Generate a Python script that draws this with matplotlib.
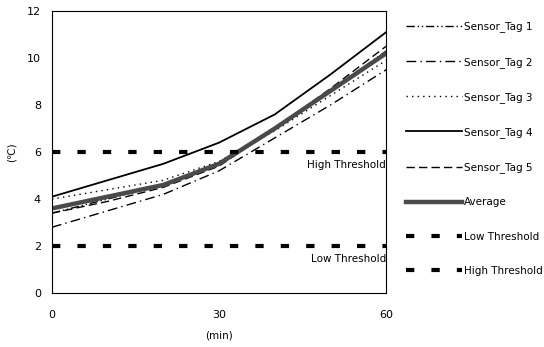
import matplotlib.pyplot as plt

# time in minutes
t = [0, 10, 20, 30, 40, 50, 60]

tag1 = [3.4, 4.0, 4.6, 5.5, 7.0, 8.6, 10.3]
tag2 = [2.8, 3.5, 4.2, 5.2, 6.6, 8.0, 9.5]
tag3 = [4.0, 4.4, 4.8, 5.6, 6.9, 8.4, 9.9]
tag4 = [4.1, 4.8, 5.5, 6.4, 7.6, 9.3, 11.1]
tag5 = [3.4, 3.9, 4.5, 5.4, 7.0, 8.7, 10.5]
average = [3.6, 4.1, 4.6, 5.5, 7.0, 8.6, 10.2]

low_threshold = 2
high_threshold = 6

plt.rcParams['font.family'] = ['DejaVu Sans']
fig = plt.figure(figsize=(5.44, 3.47), dpi=100)
ax = fig.add_axes([0.0956, 0.1556, 0.614, 0.8124])

ax.plot(t, tag1, color='black', lw=1, linestyle=(0, (6, 2, 1, 2, 1, 2)), label='Sensor_Tag 1')
ax.plot(t, tag2, color='black', lw=1, linestyle=(0, (7, 3, 1, 3)), label='Sensor_Tag 2')
ax.plot(t, tag3, color='black', lw=1, linestyle=(0, (1, 3)), label='Sensor_Tag 3')
ax.plot(t, tag4, color='black', lw=1.3, linestyle='-', label='Sensor_Tag 4')
ax.plot(t, tag5, color='black', lw=1, linestyle=(0, (6, 3)), label='Sensor_Tag 5')
ax.plot(t, average, color='#4a4a4a', lw=3.2, linestyle='-', label='Average')
ax.axhline(low_threshold, color='black', lw=3, linestyle=(0, (2, 4.1)), label='Low Threshold')
ax.axhline(high_threshold, color='black', lw=3, linestyle=(0, (2, 4.1)), label='High Threshold')

ax.text(60, high_threshold - 0.35, 'High Threshold', ha='right', va='top', fontsize=7.5)
ax.text(60, low_threshold - 0.35, 'Low Threshold', ha='right', va='top', fontsize=7.5)

ax.set_xlim(0, 60)
ax.set_ylim(0, 12)
ax.set_xticks([0, 30, 60])
ax.set_yticks(range(0, 13, 2))
ax.tick_params(length=0, labelsize=8)
ax.tick_params(axis='x', pad=12)
ax.tick_params(axis='y', pad=8)
ax.set_xlabel('(min)', fontsize=7.5, labelpad=8)
ax.set_ylabel('(℃)', fontsize=7.5, labelpad=7)
for s in ax.spines.values():
    s.set_linewidth(0.8)

handles, labels = ax.get_legend_handles_labels()
fig.legend(handles, labels, loc='upper left', bbox_to_anchor=(0.73, 0.965),
           frameon=False, fontsize=7.5, handlelength=5.3, handletextpad=0.2,
           labelspacing=2.33)

fig.savefig('out.png', dpi=100)
